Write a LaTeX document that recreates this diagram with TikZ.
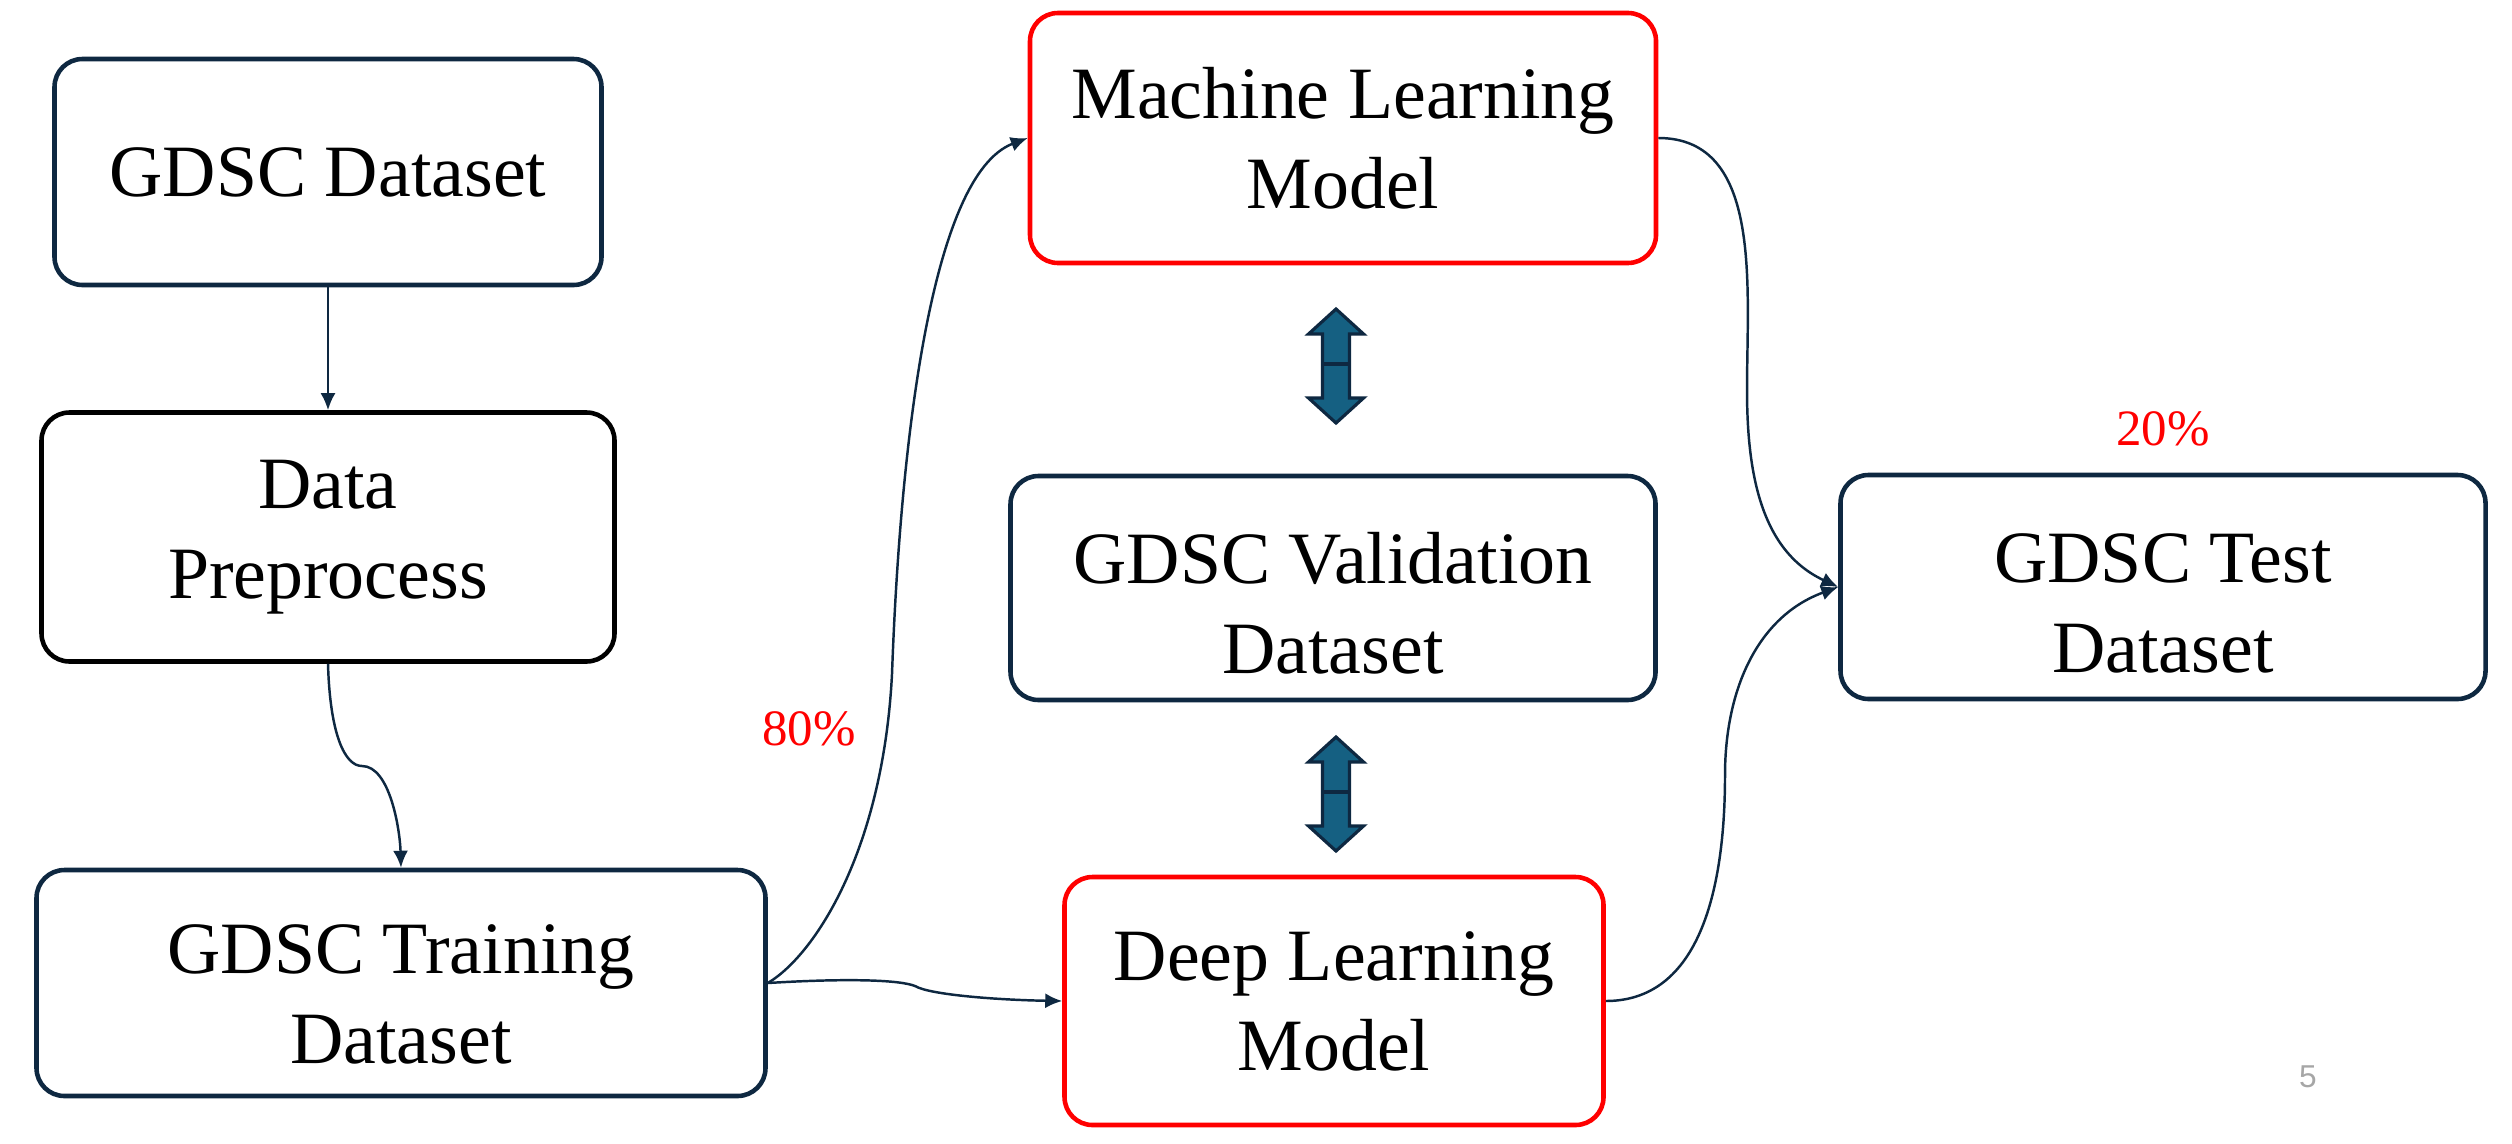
\documentclass[tikz,border=0pt]{standalone}
\usepackage{fontspec}
\setmainfont{Liberation Serif}
\newfontfamily\pagefont{Liberation Sans}
\usetikzlibrary{arrows.meta}
\definecolor{navy}{RGB}{14,40,65}
\definecolor{teal}{RGB}{21,96,130}
\newcommand{\sunk}[1]{\rule{0pt}{#1}}
\begin{document}
\begin{tikzpicture}[
  box/.style={draw=navy, line width=1.3pt, rounded corners=0.28cm, align=center,
    inner sep=0pt, font=\fontsize{21}{25.6}\selectfont},
  redbox/.style={box, draw=red},
  link/.style={-{Latex[length=1.7mm,width=1.5mm]}, navy, line width=0.7pt},
  dbl/.style={draw=navy, fill=teal, line width=0.9pt, line join=miter}
]
\useasboundingbox (0,0) rectangle (25.12,-11.43);

\node[box, minimum width=5.47cm, minimum height=2.26cm] (gdsc) at (3.28,-1.72) {GDSC Dataset};
\node[box, draw=black, minimum width=5.73cm, minimum height=2.49cm] (prep) at (3.28,-5.37) {Data\\Preprocess};
\node[box, minimum width=7.29cm, minimum height=2.26cm] (train) at (4.01,-9.83) {\sunk{20.6pt}GDSC Training\\Dataset};
\node[redbox, minimum width=6.26cm, minimum height=2.50cm] (ml) at (13.43,-1.38) {Machine Learning\\Model};
\node[box, minimum width=6.45cm, minimum height=2.24cm] (valid) at (13.33,-5.88) {\sunk{23.4pt}GDSC Validation\\Dataset};
\node[redbox, minimum width=5.39cm, minimum height=2.48cm] (dl) at (13.34,-10.01) {Deep Learning\\Model};
\node[box, minimum width=6.45cm, minimum height=2.24cm] (test) at (21.63,-5.87) {\sunk{23.4pt}GDSC Test\\Dataset};

\node[red, font=\fontsize{14.5}{16}\selectfont] (train80) at (8.09,-7.29) {80\%};
\node[red, font=\fontsize{14.5}{16}\selectfont] (test20) at (21.63,-4.29) {20\%};
\node[gray!70, font=\pagefont\fontsize{9}{10}\selectfont] (page) at (23.08,-10.77) {5};

\draw[link] (gdsc.south) -- (prep.north);
\draw[link] (prep.south) .. controls (3.30,-7.35) and (3.45,-7.66) .. (3.62,-7.66)
  .. controls (3.90,-7.66) and (4.00,-8.30) .. (train.north);
\draw[link] (train.east) .. controls (8.15,-9.55) and (8.83,-8.5) .. (8.92,-6.74)
  .. controls (9.0,-4.5) and (9.3,-1.75) .. (ml.west);
\draw[link] (train.east) .. controls (8.50,-9.78) and (9.00,-9.80) .. (9.15,-9.86)
  .. controls (9.30,-9.95) and (10.00,-10.00) .. (dl.west);
\draw[link] (ml.east) to[out=0,in=90] (17.47,-3.9) to[out=-90,in=155] (test.west);
\draw[link] (dl.east) to[out=0,in=-90] (17.25,-7.75) to[out=90,in=200] (test.west);

\foreach \t in {3.09,7.37}{
  \draw[dbl] (13.36,-\t) -- ++(0.275,-0.25) -- ++(-0.14,0) -- ++(0,-0.64) -- ++(0.14,0)
    -- ++(-0.275,-0.25) -- ++(-0.275,0.25) -- ++(0.14,0) -- ++(0,0.64) -- ++(-0.14,0) -- cycle;
  \draw[navy, line width=0.9pt] (13.225,-\t-0.55) -- ++(0.27,0);
}
\end{tikzpicture}
\end{document}
